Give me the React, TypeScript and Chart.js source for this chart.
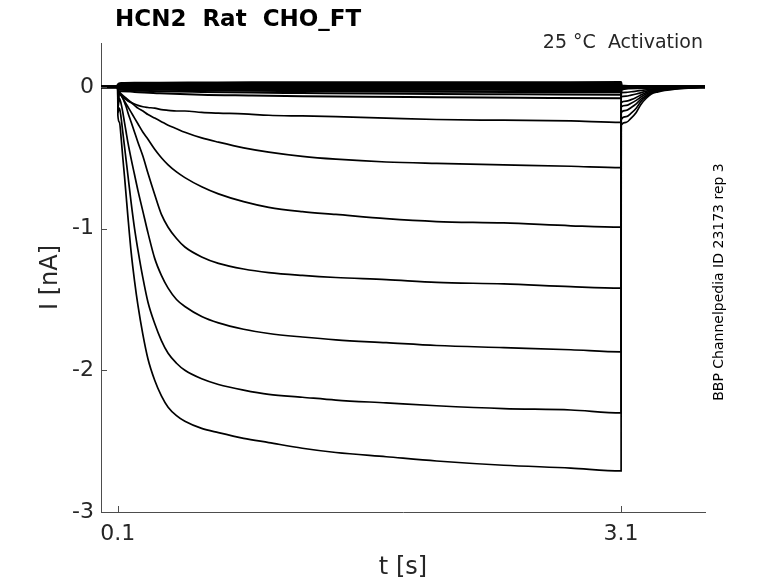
import React, { useEffect, useRef } from "react";
import { Chart, registerables } from "chart.js";

Chart.register(...registerables);

// ---------- data ----------
const xTicks = [0.1, 3.1];
const yTicks = [-3, -2, -1, 0];

const stepTimes = [0, 0.1, 0.1005, 0.11, 0.12, 0.13, 0.14, 0.15, 0.16, 0.18, 0.2, 0.22, 0.25, 0.28, 0.32, 0.36, 0.4, 0.45, 0.5, 0.6, 0.7, 0.85, 1.0, 1.2, 1.4, 1.7, 2.0, 2.4, 2.8, 3.1];
const tailTimes = [3.1005, 3.13, 3.16, 3.19, 3.22, 3.25, 3.28, 3.32, 3.36, 3.42, 3.5, 3.6];

const step1 = [0, 0, -0.2, -0.25, -0.36, -0.5, -0.63, -0.77, -0.91, -1.17, -1.37, -1.54, -1.75, -1.92, -2.07, -2.18, -2.26, -2.32, -2.36, -2.41, -2.44, -2.48, -2.51, -2.55, -2.58, -2.61, -2.64, -2.67, -2.69, -2.71];
const tail1 = [-0.27, -0.25, -0.22, -0.18, -0.12, -0.08, -0.05, -0.035, -0.025, -0.015, -0.008, 0];

const step2 = [0, 0, -0.18, -0.15, -0.22, -0.32, -0.42, -0.52, -0.62, -0.82, -1.0, -1.15, -1.35, -1.52, -1.67, -1.79, -1.88, -1.95, -2.0, -2.06, -2.1, -2.14, -2.17, -2.19, -2.21, -2.23, -2.25, -2.27, -2.28, -2.3];
const tail2 = [-0.23, -0.21, -0.185, -0.15, -0.1, -0.07, -0.045, -0.03, -0.02, -0.012, -0.006, 0];

const step3 = [0, 0, -0.15, -0.08, -0.12, -0.18, -0.25, -0.32, -0.39, -0.51, -0.62, -0.73, -0.88, -1.03, -1.21, -1.33, -1.42, -1.5, -1.55, -1.62, -1.665, -1.71, -1.74, -1.765, -1.785, -1.805, -1.825, -1.84, -1.855, -1.87];
const tail3 = [-0.18, -0.165, -0.145, -0.12, -0.085, -0.06, -0.04, -0.027, -0.018, -0.01, -0.005, 0];

const step4 = [0, 0, -0.12, -0.04, -0.06, -0.08, -0.11, -0.14, -0.18, -0.25, -0.32, -0.39, -0.49, -0.61, -0.76, -0.9, -0.99, -1.07, -1.13, -1.2, -1.245, -1.285, -1.31, -1.33, -1.345, -1.36, -1.38, -1.39, -1.41, -1.42];
const tail4 = [-0.14, -0.13, -0.115, -0.095, -0.07, -0.05, -0.035, -0.024, -0.016, -0.009, -0.004, 0];

const step5 = [0, 0, -0.1, -0.04, -0.06, -0.08, -0.1, -0.12, -0.14, -0.18, -0.22, -0.26, -0.32, -0.37, -0.44, -0.5, -0.55, -0.6, -0.64, -0.705, -0.755, -0.81, -0.85, -0.88, -0.9, -0.93, -0.95, -0.96, -0.98, -0.99];
const tail5 = [-0.11, -0.1, -0.09, -0.075, -0.055, -0.04, -0.028, -0.02, -0.013, -0.008, -0.004, 0];

const step6 = [0, 0, -0.06, -0.04, -0.05, -0.06, -0.07, -0.08, -0.09, -0.11, -0.13, -0.15, -0.17, -0.195, -0.22, -0.245, -0.27, -0.295, -0.32, -0.36, -0.39, -0.43, -0.46, -0.49, -0.51, -0.53, -0.54, -0.55, -0.56, -0.57];
const tail6 = [-0.07, -0.065, -0.058, -0.05, -0.04, -0.03, -0.022, -0.015, -0.01, -0.006, -0.003, 0];

const step7 = [0, 0, -0.04, -0.05, -0.06, -0.07, -0.08, -0.09, -0.1, -0.11, -0.12, -0.13, -0.14, -0.145, -0.15, -0.16, -0.165, -0.17, -0.17, -0.18, -0.185, -0.19, -0.2, -0.205, -0.21, -0.22, -0.23, -0.235, -0.24, -0.25];
const tail7 = [-0.04, -0.038, -0.034, -0.03, -0.025, -0.02, -0.015, -0.01, -0.007, -0.004, -0.002, 0];

const flatStepTimes = [0, 0.1, 0.1005, 0.12, 0.2, 0.35, 0.6, 0.9, 1.2, 1.6, 2.0, 2.5, 3.1];
const flatTailTimes = [3.1005, 3.2, 3.3, 3.6];

const step8 = [0, 0, -0.03, -0.03, -0.035, -0.045, -0.055, -0.06, -0.065, -0.07, -0.072, -0.076, -0.08];
const tail8 = [-0.02, -0.01, -0.004, 0];
const step9 = [0, 0, -0.02, -0.02, -0.025, -0.03, -0.035, -0.04, -0.043, -0.047, -0.05, -0.052, -0.055];
const tail9 = [-0.01, -0.005, -0.002, 0];
const step10 = [0, 0, -0.01, -0.012, -0.015, -0.018, -0.022, -0.025, -0.027, -0.03, -0.032, -0.034, -0.036];
const tail10 = [-0.005, -0.002, 0, 0];
const step11 = [0, 0, -0.005, -0.006, -0.008, -0.01, -0.012, -0.014, -0.016, -0.017, -0.018, -0.019, -0.02];
const tail11 = [0, 0, 0, 0];
const step12 = [0, 0, 0, -0.002, -0.003, -0.004, -0.005, -0.006, -0.006, -0.007, -0.007, -0.008, -0.008];
const tail12 = [0, 0, 0, 0];
const step13 = [0, 0, 0.005, 0.006, 0.006, 0.007, 0.007, 0.007, 0.007, 0.007, 0.008, 0.008, 0.008];
const tail13 = [0.003, 0.002, 0.001, 0];
const step14 = [0, 0, 0.01, 0.015, 0.016, 0.017, 0.018, 0.018, 0.018, 0.019, 0.019, 0.02, 0.02];
const tail14 = [0.005, 0.003, 0.002, 0];
const step15 = [0, 0, 0.015, 0.025, 0.027, 0.028, 0.029, 0.03, 0.03, 0.03, 0.031, 0.031, 0.032];
const tail15 = [0.008, 0.004, 0.003, 0];

const titleText = "HCN2  Rat  CHO_FT";
const conditionText = "25 °C  Activation";
const idText = "BBP Channelpedia ID 23173 rep 3";
const xLabel = "t [s]";
const yLabel = "I [nA]";

const FONT = "'DejaVu Sans', sans-serif";
const AXIS_COLOR = "#4d4d4d";
const TEXT_COLOR = "#262626";

export default function App() {
  const ref = useRef<HTMLCanvasElement>(null);

  useEffect(() => {
    if (!ref.current) return;
    const traces: [number[], number[], number[], number[]][] = [
      [stepTimes, step1, tailTimes, tail1],
      [stepTimes, step2, tailTimes, tail2],
      [stepTimes, step3, tailTimes, tail3],
      [stepTimes, step4, tailTimes, tail4],
      [stepTimes, step5, tailTimes, tail5],
      [stepTimes, step6, tailTimes, tail6],
      [stepTimes, step7, tailTimes, tail7],
      [flatStepTimes, step8, flatTailTimes, tail8],
      [flatStepTimes, step9, flatTailTimes, tail9],
      [flatStepTimes, step10, flatTailTimes, tail10],
      [flatStepTimes, step11, flatTailTimes, tail11],
      [flatStepTimes, step12, flatTailTimes, tail12],
      [flatStepTimes, step13, flatTailTimes, tail13],
      [flatStepTimes, step14, flatTailTimes, tail14],
      [flatStepTimes, step15, flatTailTimes, tail15],
    ];
    const datasets = traces.map(([st, sv, tt, tv], i) => ({
      label: "trace " + (i + 1),
      data: [
        ...st.map((x, j) => ({ x, y: sv[j] })),
        ...tt.map((x, j) => ({ x, y: tv[j] })),
      ],
      borderColor: "#000",
      borderWidth: i < 7 ? 1.7 : i < 9 ? 2 : 2.6,
      pointRadius: 0,
      fill: false,
      cubicInterpolationMode: "monotone" as const,
    }));

    const textPlugin = {
      id: "texts",
      afterDraw(chart: any) {
        const ctx = chart.ctx as CanvasRenderingContext2D;
        const { left, bottom } = chart.chartArea;
        const xs = chart.scales.x;
        const ys = chart.scales.y;
        ctx.save();
        // inward ticks
        ctx.strokeStyle = AXIS_COLOR;
        ctx.lineWidth = 1;
        ctx.beginPath();
        yTicks.forEach((v) => {
          const py = Math.round(ys.getPixelForValue(v)) + 0.5;
          ctx.moveTo(left, py);
          ctx.lineTo(left + 6, py);
        });
        xTicks.forEach((v) => {
          const px = Math.round(xs.getPixelForValue(v)) + 0.5;
          ctx.moveTo(px, bottom);
          ctx.lineTo(px, bottom - 6);
        });
        ctx.stroke();

        ctx.fillStyle = "#000";
        ctx.textBaseline = "alphabetic";
        ctx.font = `bold 23px ${FONT}`;
        ctx.textAlign = "left";
        ctx.fillText(titleText, 115, 26);

        ctx.fillStyle = TEXT_COLOR;
        ctx.font = `19px ${FONT}`;
        ctx.textAlign = "right";
        ctx.fillText(conditionText, 703, 48);

        ctx.fillStyle = "#000";
        ctx.font = `14px ${FONT}`;
        ctx.translate(723, 282);
        ctx.rotate(-Math.PI / 2);
        ctx.textAlign = "center";
        ctx.fillText(idText, 0, 0);
        ctx.restore();
      },
    };

    const chart = new Chart(ref.current, {
      type: "line",
      data: { datasets: datasets as any },
      options: {
        animation: false,
        responsive: true,
        maintainAspectRatio: false,
        layout: { padding: { top: 43, right: 73, left: 0, bottom: 0 } },
        plugins: {
          legend: { display: false },
          title: { display: false },
          tooltip: { enabled: false },
        },
        scales: {
          x: {
            type: "linear",
            min: 0,
            max: 3.6,
            grid: { display: false, drawTicks: false },
            border: { display: true, color: AXIS_COLOR, width: 1 },
            afterBuildTicks: (s: any) => {
              s.ticks = xTicks.map((v) => ({ value: v }));
            },
            afterFit: (s: any) => {
              s.height = 71;
            },
            ticks: {
              autoSkip: false,
              maxRotation: 0,
              padding: 9,
              color: TEXT_COLOR,
              font: { family: FONT, size: 22 },
              callback: (v: any) => String(v),
            },
            title: {
              display: true,
              text: xLabel,
              color: TEXT_COLOR,
              font: { family: FONT, size: 24 },
              padding: { top: 0, bottom: 1 },
            },
          },
          y: {
            type: "linear",
            min: -3,
            max: 0.31,
            grid: { display: false, drawTicks: false },
            border: { display: true, color: AXIS_COLOR, width: 1 },
            afterBuildTicks: (s: any) => {
              s.ticks = yTicks.map((v) => ({ value: v }));
            },
            afterFit: (s: any) => {
              s.width = 101;
            },
            ticks: {
              autoSkip: false,
              padding: 7,
              color: TEXT_COLOR,
              font: { family: FONT, size: 22 },
              callback: (v: any) => String(v),
            },
            title: {
              display: true,
              text: yLabel,
              color: TEXT_COLOR,
              font: { family: FONT, size: 24 },
              padding: { top: 36, bottom: 0 },
            },
          },
        },
      },
      plugins: [textPlugin],
    });
    return () => chart.destroy();
  }, []);

  return (
    <div style={{ position: "absolute", left: 0, top: 0, width: 778, height: 583, background: "#fff" }}>
      <canvas ref={ref} />
    </div>
  );
}
